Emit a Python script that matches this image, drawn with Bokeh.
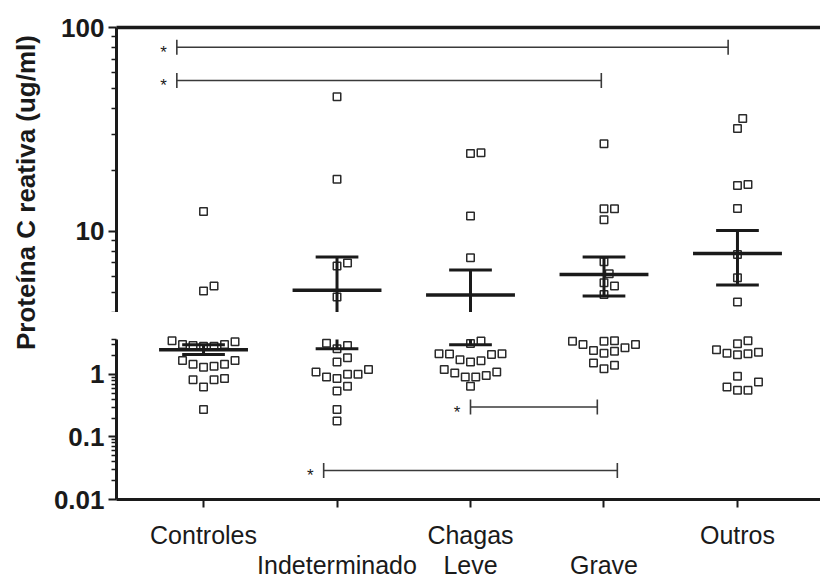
import math
from bokeh.plotting import figure
from bokeh.models import Range1d, FixedTicker, LinearAxis, CustomJSTickFormatter
from bokeh.layouts import row, column
from bokeh.core.properties import value
from bokeh.embed import file_html
from bokeh.resources import INLINE

# ---------------- data ----------------
tick_labels = ["Controles", "\nIndeterminado", "Chagas\nLeve", "\nGrave", "Outros"]
y_title = "Proteína C reativa (ug/ml)"

controles = [12.5, 5.4, 5.1, 3.3, 3.45, 3.0, 2.8, 2.9, 3.0, 2.8, 1.67, 1.67,
             1.45, 1.35, 1.3, 1.45, 0.86, 0.82, 0.82, 0.63, 0.275]
indeterminado = [45.7, 18.0, 7.0, 6.76, 4.77, 2.56, 2.89, 3.14, 1.84, 1.57,
                 1.19, 1.0, 0.906, 0.855, 1.0, 1.09, 0.645, 0.543, 0.275, 0.18]
chagas_leve = [24.1, 24.3, 11.9, 7.43, 3.4, 3.1, 2.13, 2.11, 2.13, 2.08, 1.71,
               1.57, 1.64, 1.19, 1.05, 0.96, 1.09, 0.905, 0.905, 0.645]
grave = [26.9, 12.9, 12.9, 11.4, 7.1, 6.2, 5.6, 5.4, 4.9, 2.99, 3.45, 3.38,
         3.38, 2.99, 2.34, 2.18, 2.4, 2.65, 1.51, 1.23, 1.39]
outros = [35.8, 32.0, 16.8, 17.0, 12.96, 7.7, 5.93, 4.5, 3.45, 3.07, 2.47,
          2.13, 2.05, 2.18, 2.26, 0.93, 0.63, 0.557, 0.557, 0.755]
groups = [controles, indeterminado, chagas_leve, grave, outros]

mean_vals = [2.47, 5.14, 4.88, 6.14, 7.78]
sem_hi = [2.96, 7.48, 6.46, 7.48, 10.1]
sem_lo = [2.08, 2.56, 2.96, 4.82, 5.46]

sig_from = [-0.2, -0.2, 2.0, 0.9]
sig_to = [3.93, 2.98, 2.95, 3.1]
sig_level = [80.0, 55.0, 0.30, 0.029]
sig_text = ["*", "*", "*", "*"]

upper_major = [10, 100]
upper_minor = [4, 5, 6, 7, 8, 9, 20, 30, 40, 50, 60, 70, 80, 90]
lower_major = [0.01, 0.1, 1]
lower_minor = [0.02, 0.03, 0.04, 0.05, 0.06, 0.07, 0.08, 0.09,
               0.2, 0.3, 0.4, 0.5, 0.6, 0.7, 0.8, 0.9, 2, 3, 3.6]

# ---------------- layout constants ----------------
X_START, X_END = -0.652, 4.622
UP_LO, UP_HI = 4.0, 100.0          # upper axis segment
LO_LO, LO_AXIS_TOP = 0.01, 3.6     # lower axis segment
TITLE_W = 48
FIG_W = 772
UP_H, LO_H = 312, 271
LEFT = 68
UP_TOP = 27
LO_TOP, LO_BOT = 19, 84
HEADROOM = 8                        # px of frame above the lower axis end

FONT = "Liberation Sans"
INK = "#1a1a1a"

frame_w = FIG_W - LEFT
up_frame_h = UP_H - UP_TOP
lo_frame_h = LO_H - LO_TOP - LO_BOT
x_px = frame_w / (X_END - X_START)
up_px = up_frame_h / math.log10(UP_HI / UP_LO)
lo_px = (lo_frame_h - HEADROOM) / math.log10(LO_AXIS_TOP / LO_LO)
LO_RANGE_HI = LO_AXIS_TOP * 10 ** (HEADROOM / lo_px)


def swarm(vals, diam=10.5):
    ys = [math.log10(v) * up_px if v >= UP_LO else math.log10(v) * lo_px - 1e5
          for v in vals]
    order = sorted(range(len(vals)), key=lambda i: ys[i])
    cands = [0.0]
    for k in range(1, 30):
        cands += [k * diam * 0.5, -k * diam * 0.5]
    placed = []
    offs = [0.0] * len(vals)
    for i in order:
        y = ys[i]
        chosen = cands[-1]
        for c in cands:
            if all((c - xj) ** 2 + (y - yj) ** 2 >= (diam * 0.98) ** 2 for xj, yj in placed):
                chosen = c
                break
        placed.append((chosen, y))
        offs[i] = chosen / x_px
    return offs


px_all, py_all = [], []
for gi, vals in enumerate(groups):
    offs = swarm(vals)
    px_all += [gi + o for o in offs]
    py_all += vals

cats = list(range(len(groups)))
x_range = Range1d(X_START, X_END)


def style_y(ax, major, minor, bounds):
    ax.ticker = FixedTicker(ticks=major, minor_ticks=minor)
    ax.formatter = CustomJSTickFormatter(code="return String(tick)")
    ax.bounds = bounds
    ax.axis_line_width = 3
    ax.axis_line_color = INK
    ax.major_tick_line_width = 2
    ax.minor_tick_line_width = 1.5
    ax.major_tick_line_color = INK
    ax.minor_tick_line_color = INK
    ax.major_tick_out = 8
    ax.major_tick_in = 0
    ax.minor_tick_out = 5
    ax.minor_tick_in = 0
    ax.major_label_text_font = FONT
    ax.major_label_text_font_style = "bold"
    ax.major_label_text_font_size = "26px"
    ax.major_label_text_color = INK
    ax.major_label_standoff = 4


def draw_common(p, lo_lim, hi_lim):
    def inside(v):
        return lo_lim <= v <= hi_lim
    # points inside this segment
    xs = [x for x, y in zip(px_all, py_all) if inside(y)]
    ys = [y for y in py_all if inside(y)]
    p.scatter(xs, ys, marker="square", size=7.5, line_color="#2a2a2a",
              line_width=1.5, fill_color="white")
    # mean line
    mi = [i for i in cats if inside(mean_vals[i])]
    p.segment(x0=[i - 0.333 for i in mi], y0=[mean_vals[i] for i in mi],
              x1=[i + 0.333 for i in mi], y1=[mean_vals[i] for i in mi],
              line_color=INK, line_width=3.5)
    # SEM stems, clipped to this axis segment
    si = [i for i in cats if max(sem_lo[i], lo_lim) < min(sem_hi[i], hi_lim)]
    p.segment(x0=si, y0=[max(sem_lo[i], lo_lim) for i in si],
              x1=si, y1=[min(sem_hi[i], hi_lim) for i in si],
              line_color=INK, line_width=3)
    # caps
    for arr in (sem_hi, sem_lo):
        ci = [i for i in cats if inside(arr[i])]
        p.segment(x0=[i - 0.16 for i in ci], y0=[arr[i] for i in ci],
                  x1=[i + 0.16 for i in ci], y1=[arr[i] for i in ci],
                  line_color=INK, line_width=3)
    # significance bars
    idx = [i for i, v in enumerate(sig_level) if inside(v)]
    if idx:
        sx0 = [sig_from[i] for i in idx]
        sx1 = [sig_to[i] for i in idx]
        sy = [sig_level[i] for i in idx]
        p.segment(x0=sx0, y0=sy, x1=sx1, y1=sy, line_color="#3a3a3a", line_width=1.6)
        p.scatter(sx0 + sx1, sy + sy, marker="dash", angle=math.pi / 2, size=15,
                  line_color="#3a3a3a", line_width=1.6)
        p.text(x=[x - 0.1 for x in sx0], y=sy, text=[sig_text[i] for i in idx],
               text_align="center", text_baseline="middle", y_offset=5,
               text_font=value(FONT), text_font_size="17px", text_color=INK)


# ---------------- upper segment ----------------
up = figure(width=FIG_W, height=UP_H, x_range=x_range, y_range=Range1d(UP_LO, UP_HI),
            y_axis_type="log", x_axis_location=None, output_backend="svg",
            toolbar_location=None, min_border_left=LEFT, min_border_right=0,
            min_border_top=UP_TOP, min_border_bottom=0)
up.grid.visible = False
up.outline_line_color = None
style_y(up.yaxis[0], upper_major, upper_minor, (UP_LO, UP_HI))
top_axis = LinearAxis(ticker=FixedTicker(ticks=[]), axis_line_width=3.5,
                      axis_line_color=INK, major_tick_out=0, major_tick_in=0,
                      minor_tick_out=0, minor_tick_in=0,
                      major_label_text_font_size="0px")
up.add_layout(top_axis, "above")
draw_common(up, UP_LO, UP_HI)

# ---------------- lower segment ----------------
lo = figure(width=FIG_W, height=LO_H, x_range=x_range,
            y_range=Range1d(LO_LO, LO_RANGE_HI),
            y_axis_type="log", output_backend="svg", toolbar_location=None,
            min_border_left=LEFT, min_border_right=0, min_border_top=LO_TOP,
            min_border_bottom=LO_BOT)
lo.grid.visible = False
lo.outline_line_color = None
style_y(lo.yaxis[0], lower_major, lower_minor, (LO_LO, LO_AXIS_TOP))
xa = lo.xaxis[0]
xa.ticker = FixedTicker(ticks=cats)
xa.major_label_overrides = {c: t for c, t in zip(cats, tick_labels)}
xa.axis_line_width = 3
xa.axis_line_color = INK
xa.major_tick_line_width = 2
xa.major_tick_line_color = INK
xa.major_tick_out = 8
xa.major_tick_in = 0
xa.minor_tick_out = 0
xa.minor_tick_in = 0
xa.major_label_text_font = FONT
xa.major_label_text_font_size = "25px"
xa.major_label_text_line_height = 1.08
xa.major_label_text_color = INK
xa.major_label_standoff = 13
draw_common(lo, LO_LO, LO_AXIS_TOP)

# ---------------- y title ----------------
tf = figure(width=TITLE_W, height=UP_H + LO_H, x_range=Range1d(0, TITLE_W),
            y_range=Range1d(0, UP_H + LO_H), x_axis_location=None,
            y_axis_location=None, output_backend="svg", toolbar_location=None,
            min_border=0)
tf.grid.visible = False
tf.outline_line_color = None
tf.text(x=[25], y=[UP_H + LO_H - 192], text=[y_title], angle=math.pi / 2,
        text_align="center", text_baseline="middle", text_font=value(FONT),
        text_font_style="bold", text_font_size="26px", text_color=INK)

layout = row(tf, column(up, lo, spacing=0), spacing=0)
open("out.html", "w").write(file_html(layout, INLINE))
